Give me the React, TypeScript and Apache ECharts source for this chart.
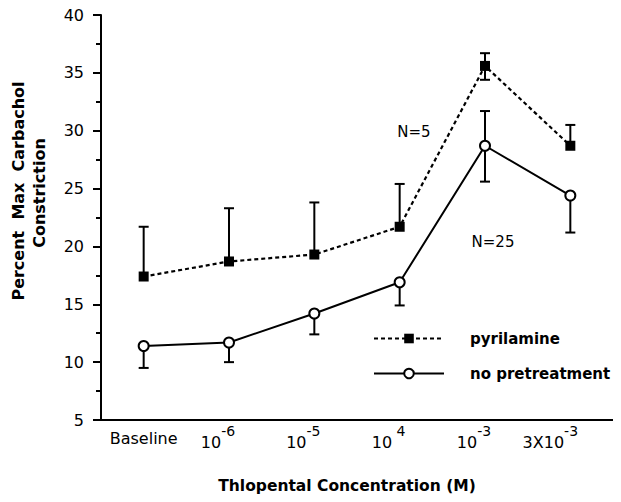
import React, { useEffect, useRef } from "react";
import * as echarts from "echarts";

const categories = ["Baseline", "10^-6", "10^-5", "10^ 4", "10^-3", "3X10^-3"];
const pyrilamine = [17.4, 18.7, 19.3, 21.7, 35.6, 28.7];
const pyrilamineUpper = [21.7, 23.3, 23.8, 25.4, 36.7, 30.5];
const pyrilamineLower = [null, null, null, null, 34.4, null];
const noPretreatment = [11.4, 11.7, 14.2, 16.9, 28.7, 24.4];
const noPretreatmentUpper = [null, null, null, null, 31.7, null];
const noPretreatmentLower = [9.5, 10.0, 12.4, 14.9, 25.6, 21.2];
const labelShift = [0, 22, 22, 22, 22, 40];

const FONT = "DejaVu Sans";

function errData(mean: number[], up: (number | null)[], lo: (number | null)[]) {
  return mean.map((m, i) => [i, m, lo[i] ?? m, up[i] ?? m]);
}

function renderErr(params: any, api: any) {
  const i = api.value(0);
  const m = api.value(1);
  const lo = api.value(2);
  const hi = api.value(3);
  const pm = api.coord([i, m]);
  const pl = api.coord([i, lo]);
  const ph = api.coord([i, hi]);
  const hw = 5;
  const st = { stroke: "#000", lineWidth: 2 };
  const children: any[] = [
    { type: "line", shape: { x1: pm[0], y1: pl[1], x2: pm[0], y2: ph[1] }, style: st },
  ];
  if (hi !== m)
    children.push({ type: "line", shape: { x1: pm[0] - hw, y1: ph[1], x2: pm[0] + hw, y2: ph[1] }, style: st });
  if (lo !== m)
    children.push({ type: "line", shape: { x1: pm[0] - hw, y1: pl[1], x2: pm[0] + hw, y2: pl[1] }, style: st });
  return { type: "group", children };
}

export default function App() {
  const ref = useRef<HTMLDivElement>(null);
  useEffect(() => {
    const chart = echarts.init(ref.current!, null, { renderer: "svg" });
    const fmt = (v: string, idx: number) => {
      const parts = v.split("^");
      const s = labelShift[idx] ? "s" + idx : "";
      if (parts.length === 1) return "{bl|" + v + "}";
      return "{b|" + parts[0] + "}{sup" + s + "|" + parts[1] + "}";
    };
    const rich: any = {
      bl: { fontFamily: FONT, fontSize: 16, color: "#000", lineHeight: 28 },
      b: { fontFamily: FONT, fontSize: 16, color: "#000", verticalAlign: "bottom" },
      sup: { fontFamily: FONT, fontSize: 14, color: "#000", verticalAlign: "top", padding: [0, 0, 12, 0] },
    };
    labelShift.forEach((sh, idx) => {
      rich["sups" + idx] = {
        fontFamily: FONT,
        fontSize: 14,
        color: "#000",
        verticalAlign: "top",
        padding: [0, sh, 12, 0],
      };
    });
    chart.setOption({
      animation: false,
      grid: { left: 101, right: 8, top: 15, bottom: 82, containLabel: false },
      xAxis: [
        {
          type: "category",
          data: categories,
          boundaryGap: true,
          axisLine: { lineStyle: { color: "#000", width: 2 } },
          axisTick: { alignWithLabel: true, length: 8, lineStyle: { color: "#000", width: 2 } },
          axisLabel: { formatter: fmt, rich, margin: 4, interval: 0 },
          name: "Thlopental Concentration (M)",
          nameLocation: "middle",
          nameGap: 58,
          nameTextStyle: { fontFamily: FONT, fontSize: 15.5, fontWeight: "bold", color: "#000", padding: [0, 20, 0, 0] },
        },
        {
          type: "category",
          data: categories,
          boundaryGap: true,
          position: "bottom",
          gridIndex: 0,
          axisLine: { show: false },
          axisTick: { length: 4, lineStyle: { color: "#000", width: 2 } },
          axisLabel: { show: false },
        },
      ],
      yAxis: {
        type: "value",
        min: 5,
        max: 40,
        interval: 5,
        axisLine: { show: true, lineStyle: { color: "#000", width: 2 } },
        axisTick: { show: true, length: 8, lineStyle: { color: "#000", width: 2 } },
        minorTick: { show: true, splitNumber: 2, length: 5, lineStyle: { color: "#000", width: 2 } },
        splitLine: { show: false },
        axisLabel: { fontFamily: FONT, fontSize: 16, color: "#000", margin: 17 },
      },
      legend: {
        orient: "vertical",
        left: 373,
        top: 331,
        padding: 0,
        itemWidth: 70,
        itemHeight: 12,
        itemGap: 20,
        textStyle: { fontFamily: FONT, fontSize: 15, fontWeight: "bold", color: "#000", padding: [0, 0, 0, 21] },
        data: ["pyrilamine", "no pretreatment"],
      },
      graphic: [
        {
          type: "text",
          x: 18,
          y: 191,
          rotation: Math.PI / 2,
          style: {
            text: "Percent  Max  Carbachol",
            font: "bold 16px " + FONT,
            fill: "#000",
            textAlign: "center",
            textVerticalAlign: "middle",
          },
        },
        {
          type: "text",
          x: 39,
          y: 193,
          rotation: Math.PI / 2,
          style: {
            text: "Constriction",
            font: "bold 16px " + FONT,
            fill: "#000",
            textAlign: "center",
            textVerticalAlign: "middle",
          },
        },
        {
          type: "text",
          x: 414,
          y: 132,
          style: { text: "N=5", font: "15px " + FONT, fill: "#000", textAlign: "center", textVerticalAlign: "middle" },
        },
        {
          type: "text",
          x: 493,
          y: 242,
          style: { text: "N=25", font: "15px " + FONT, fill: "#000", textAlign: "center", textVerticalAlign: "middle" },
        },
      ],
      series: [
        {
          type: "custom",
          renderItem: renderErr,
          data: errData(pyrilamine, pyrilamineUpper, pyrilamineLower),
          encode: { x: 0, y: [1, 2, 3] },
          z: 1,
          silent: true,
        },
        {
          type: "custom",
          renderItem: renderErr,
          data: errData(noPretreatment, noPretreatmentUpper, noPretreatmentLower),
          encode: { x: 0, y: [1, 2, 3] },
          z: 1,
          silent: true,
        },
        {
          name: "pyrilamine",
          type: "line",
          data: pyrilamine,
          symbol: "rect",
          symbolSize: 10,
          showAllSymbol: true,
          lineStyle: { color: "#000", width: 2.2, type: [4, 3] },
          itemStyle: { color: "#000", borderColor: "#000", borderWidth: 0 },
          z: 3,
        },
        {
          name: "no pretreatment",
          type: "line",
          data: noPretreatment,
          symbol: "circle",
          symbolSize: 10,
          showAllSymbol: true,
          lineStyle: { color: "#000", width: 2 },
          itemStyle: { color: "#fff", borderColor: "#000", borderWidth: 2 },
          z: 3,
        },
      ],
    });
    return () => chart.dispose();
  }, []);
  return <div ref={ref} style={{ width: 621, height: 502, margin: -8 }} />;
}
